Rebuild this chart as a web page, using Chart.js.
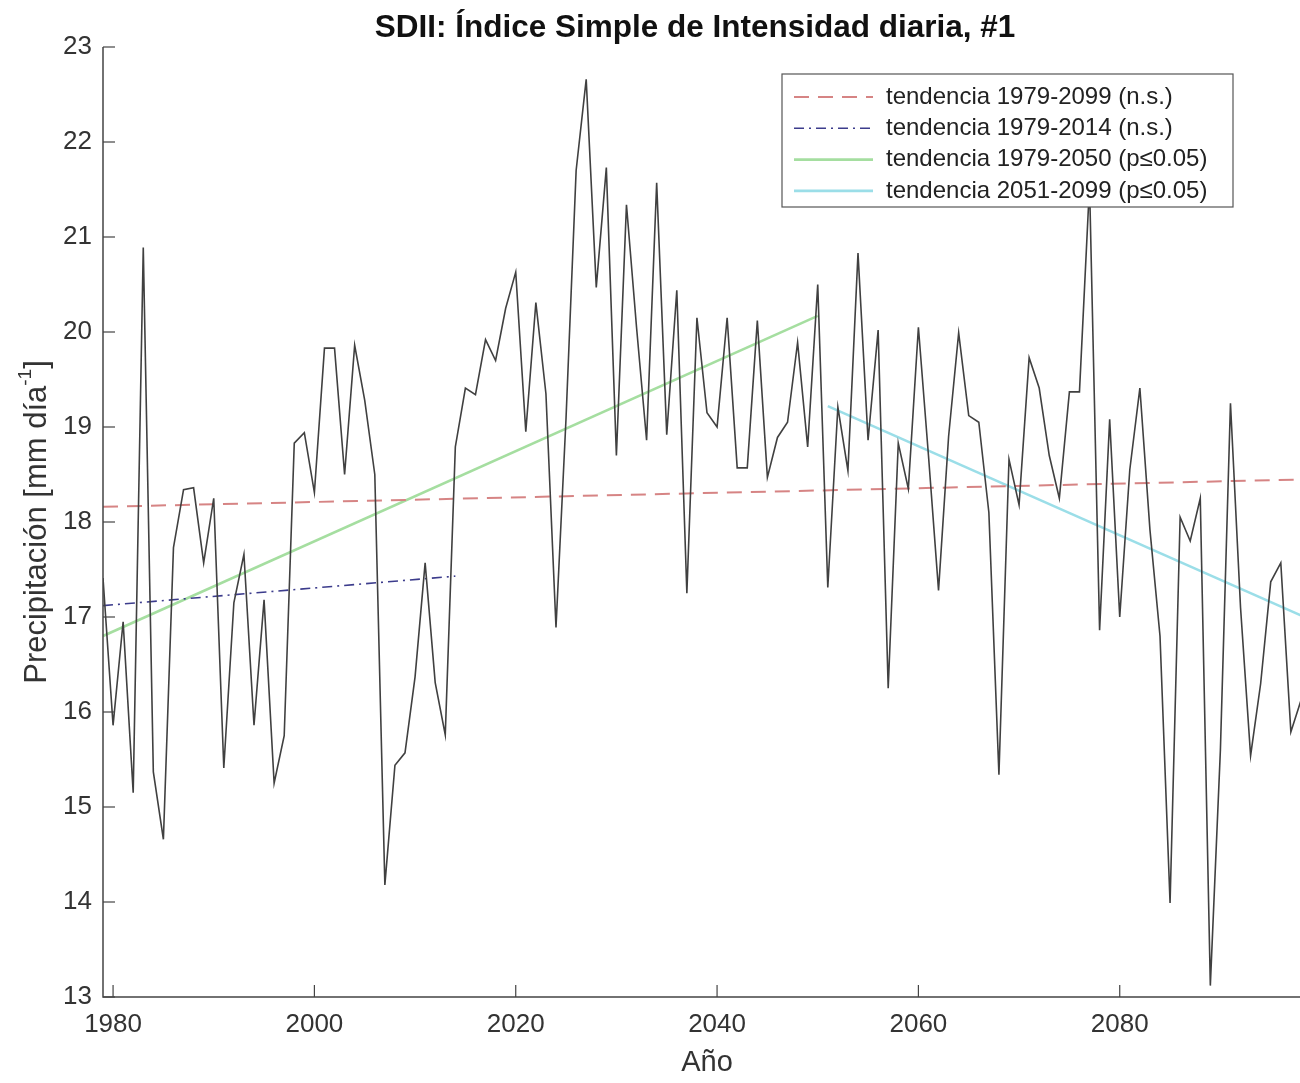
<!DOCTYPE html>
<html><head><meta charset="utf-8">
<style>html,body{margin:0;padding:0;background:#fff;overflow:hidden;width:1300px;height:1083px}canvas{display:block}</style>
<script src="https://cdn.jsdelivr.net/npm/chart.js@4/dist/chart.umd.min.js"></script>
</head><body><canvas id="c" width="1315" height="1083"></canvas>
<script>
const titleText = 'SDII: Índice Simple de Intensidad diaria, #1';
const xLabel = 'Año';
const yLabelMain = 'Precipitación [mm día';
const yLabelSup = '-1';
const yLabelEnd = ']';
const startYear = 1979;
const sdii = [
 17.41,15.86,16.95,15.15,20.89,15.37,14.66,17.73,18.34,18.36,
 17.57,18.25,15.41,17.15,17.66,15.86,17.18,15.25,15.75,18.83,
 18.94,18.31,19.83,19.83,18.50,19.86,19.28,18.50,14.18,15.44,
 15.57,16.37,17.57,16.31,15.76,18.79,19.41,19.34,19.92,19.70,
 20.25,20.63,18.95,20.31,19.35,16.89,19.10,21.70,22.66,20.47,
 21.73,18.70,21.34,20.05,18.86,21.57,18.92,20.44,17.25,20.15,
 19.15,19.00,20.15,18.57,18.57,20.12,18.47,18.89,19.05,19.89,
 18.79,20.50,17.31,19.21,18.54,20.83,18.86,20.02,16.25,18.83,
 18.35,20.05,18.70,17.28,18.90,19.99,19.12,19.05,18.10,15.34,
 18.66,18.18,19.73,19.41,18.70,18.25,19.37,19.37,21.55,16.86,
 19.08,17.00,18.55,19.41,17.92,16.80,13.99,18.05,17.80,18.25,
 13.12,15.60,19.25,17.10,15.54,16.30,17.37,17.57,15.79,16.12,
 16.50
];
const years = sdii.map((_, i) => startYear + i);
const xTicks = [1980, 2000, 2020, 2040, 2060, 2080];
const yTicks = [13, 14, 15, 16, 17, 18, 19, 20, 21, 22, 23];
const trendLabels = [
 'tendencia 1979-2099 (n.s.)',
 'tendencia 1979-2014 (n.s.)',
 'tendencia 1979-2050 (p\u22640.05)',
 'tendencia 2051-2099 (p\u22640.05)'
];
const trendAllX = [1979, 2099], trendAllY = [18.16, 18.45];
const trendHistX = [1979, 2014], trendHistY = [17.12, 17.43];
const trendNearX = [1979, 2050], trendNearY = [16.80, 20.17];
const trendFarX = [2051, 2099], trendFarY = [19.22, 16.97];

const FONT = '"Liberation Sans", Arial, Helvetica, sans-serif';
const toPts = (xs, ys) => xs.map((x, i) => ({x, y: ys[i]}));

const styles = [
 {color: 'rgb(214,132,132)', dash: [15, 9], width: 2},
 {color: 'rgb(60,60,140)', dash: [10, 5, 2, 5], width: 1.6},
 {color: 'rgb(165,222,160)', dash: [], width: 2.6},
 {color: 'rgb(155,222,232)', dash: [], width: 2.6}
];
const trendData = [
 toPts(trendAllX, trendAllY), toPts(trendHistX, trendHistY),
 toPts(trendNearX, trendNearY), toPts(trendFarX, trendFarY)
];

const datasets = [{
 label: 'SDII', data: toPts(years, sdii), borderColor: '#404040', borderWidth: 1.6,
 pointRadius: 0, tension: 0, order: 0
}];
trendData.forEach((d, i) => datasets.push({
 label: trendLabels[i], data: d, borderColor: styles[i].color, borderDash: styles[i].dash,
 borderWidth: styles[i].width, pointRadius: 0, tension: 0, order: 1
}));

const decor = {
 id: 'decor',
 afterDatasetsDraw(chart) {
  const {ctx, chartArea: a, scales: {x, y}} = chart;
  ctx.save();
  ctx.strokeStyle = '#444'; ctx.lineWidth = 1.5;
  ctx.beginPath();
  ctx.moveTo(a.left, a.top); ctx.lineTo(a.left, a.bottom); ctx.lineTo(a.right + 5, a.bottom);
  ctx.stroke();
  ctx.lineWidth = 1.2;
  yTicks.forEach(v => { const p = y.getPixelForValue(v); ctx.beginPath(); ctx.moveTo(a.left, p); ctx.lineTo(a.left + 12, p); ctx.stroke(); });
  xTicks.forEach(v => { const p = x.getPixelForValue(v); ctx.beginPath(); ctx.moveTo(p, a.bottom); ctx.lineTo(p, a.bottom - 12); ctx.stroke(); });
  ctx.restore();
 },
 afterDraw(chart) {
  const {ctx, chartArea: a} = chart;
  ctx.save();
  ctx.fillStyle = '#111';
  ctx.font = 'bold 31.5px ' + FONT;
  ctx.textAlign = 'center'; ctx.textBaseline = 'middle';
  ctx.fillText(titleText, 695, 28);
  ctx.fillStyle = '#333';
  ctx.font = '29px ' + FONT;
  ctx.fillText(xLabel, (a.left + a.right) / 2, 1063);
  ctx.save();
  ctx.translate(37, (a.top + a.bottom) / 2);
  ctx.rotate(-Math.PI / 2);
  ctx.textAlign = 'left'; ctx.textBaseline = 'middle';
  const mainF = '31px ' + FONT, supF = '19px ' + FONT;
  ctx.font = mainF; const w1 = ctx.measureText(yLabelMain).width; const w3 = ctx.measureText(yLabelEnd).width;
  ctx.font = supF; const w2 = ctx.measureText(yLabelSup).width;
  let sx = -(w1 + w2 + w3) / 2;
  ctx.font = mainF; ctx.fillText(yLabelMain, sx, 0); sx += w1;
  ctx.font = supF; ctx.fillText(yLabelSup, sx, -11); sx += w2;
  ctx.font = mainF; ctx.fillText(yLabelEnd, sx, 0);
  ctx.restore();
  const L = 782, T = 74, R = 1233, B = 207;
  ctx.fillStyle = '#fff'; ctx.fillRect(L, T, R - L, B - T);
  ctx.strokeStyle = '#555'; ctx.lineWidth = 1.2; ctx.strokeRect(L, T, R - L, B - T);
  ctx.font = '24px ' + FONT; ctx.textAlign = 'left'; ctx.textBaseline = 'middle';
  trendLabels.forEach((t, i) => {
   const yy = 97 + i * 31.3;
   ctx.strokeStyle = styles[i].color; ctx.lineWidth = styles[i].width; ctx.setLineDash(styles[i].dash);
   ctx.beginPath(); ctx.moveTo(794, yy); ctx.lineTo(873, yy); ctx.stroke();
   ctx.setLineDash([]);
   ctx.fillStyle = '#222'; ctx.fillText(t, 886, yy);
  });
  ctx.restore();
 }
};

new Chart(document.getElementById('c'), {
 type: 'line',
 data: {datasets},
 options: {
  responsive: false, animation: false, devicePixelRatio: 1,
  layout: {padding: {left: 0, top: 47, right: 4, bottom: 0}},
  plugins: {legend: {display: false}, tooltip: {enabled: false}, title: {display: false}},
  scales: {
   x: {
    type: 'linear', min: 1979, max: 2099,
    grid: {display: false, drawTicks: false}, border: {display: false},
    afterBuildTicks: s => { s.ticks = xTicks.map(v => ({value: v})); },
    afterFit: s => { s.height = 86; },
    ticks: {padding: 12, maxRotation: 0, autoSkip: false, color: '#333', font: {family: FONT, size: 26}, callback: v => String(v)}
   },
   y: {
    type: 'linear', min: 13, max: 23,
    grid: {display: false, drawTicks: false}, border: {display: false},
    afterBuildTicks: s => { s.ticks = yTicks.map(v => ({value: v})); },
    afterFit: s => { s.width = 103; },
    ticks: {padding: 11, color: '#333', font: {family: FONT, size: 26}, callback: v => String(v)}
   }
  }
 },
 plugins: [decor]
});
</script></body></html>
